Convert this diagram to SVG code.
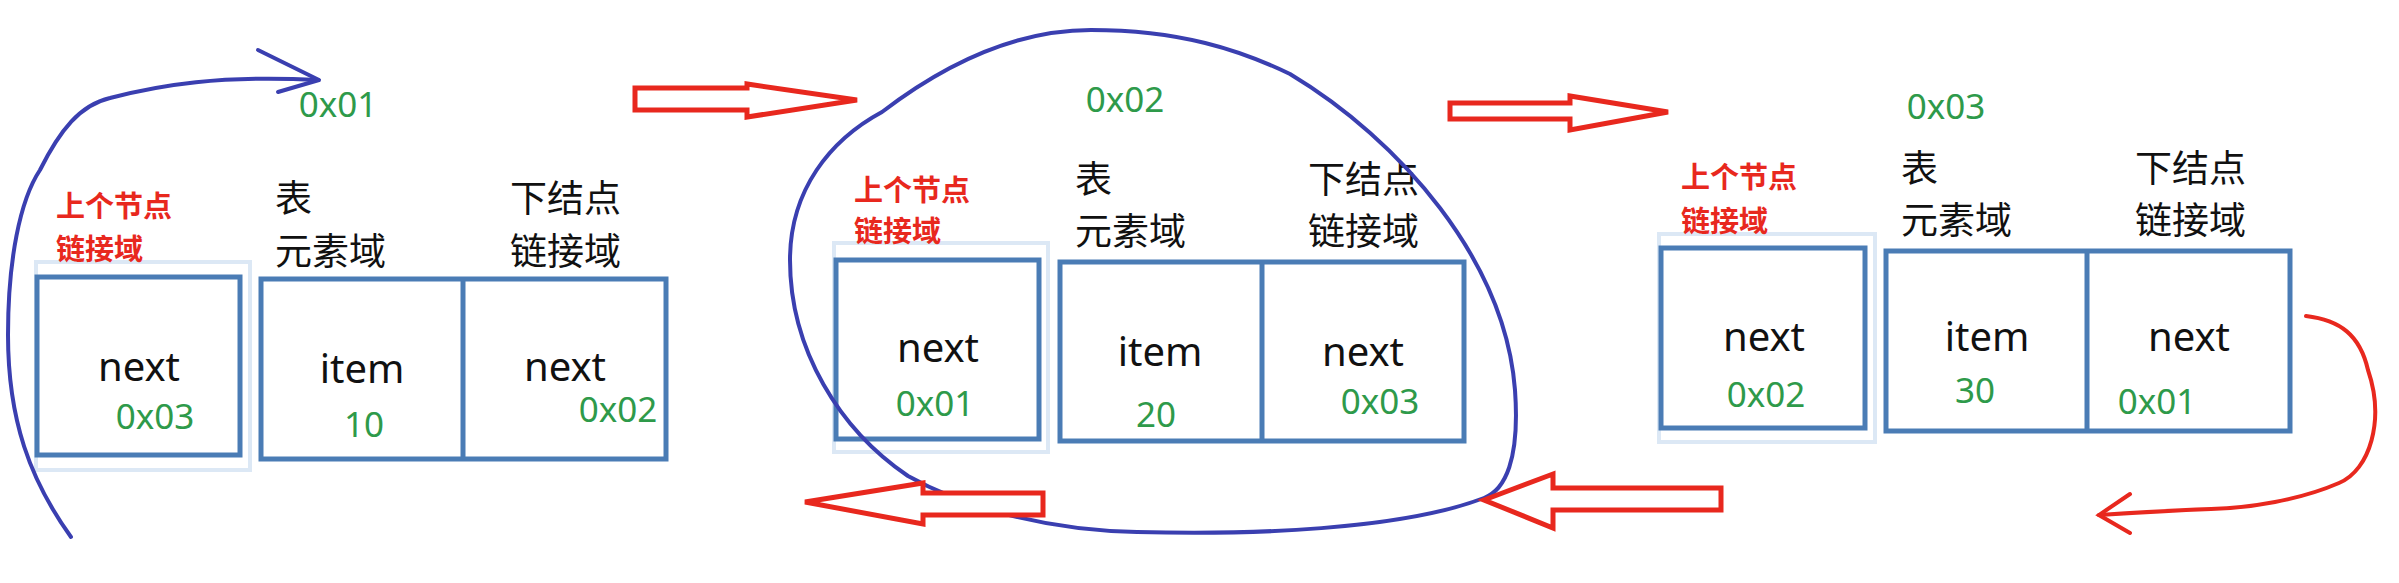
<svg xmlns="http://www.w3.org/2000/svg" width="2399" height="583" viewBox="0 0 2399 583">
<style>
.hl{fill:#fff;stroke:#dce8f5;stroke-width:4}
.box{fill:#fff;stroke:#4a7cb5;stroke-width:5}
.red{font-family:"Noto Sans CJK SC",sans-serif;font-weight:bold;font-size:29px;fill:#e8281e}
.cn{font-family:"Noto Sans CJK SC",sans-serif;font-size:37px;fill:#111}
.en{font-family:"Noto Sans","Noto Sans CJK SC",sans-serif;font-size:40px;fill:#111;text-anchor:middle}
.num{font-family:"Noto Sans",sans-serif;font-size:35px;fill:#2e9a4a;text-anchor:middle}
.blue{fill:none;stroke:#3a3fb0;stroke-width:4;stroke-linecap:round;stroke-linejoin:round}
.rarr{fill:#fff;stroke:#e8281e;stroke-width:5;stroke-linejoin:miter}
.rline{fill:none;stroke:#e8281e;stroke-width:4;stroke-linecap:round}
</style>
<g id="node1">
<rect class="hl" x="36" y="262" width="214" height="208"/>
<rect class="box" x="37" y="277" width="203" height="178"/>
<rect class="box" x="261" y="279" width="405" height="180"/>
<line class="box" x1="463" y1="279" x2="463" y2="459"/>
<text class="red" x="56" y="217">上个节点</text>
<text class="red" x="56" y="260">链接域</text>
<text class="cn" x="275" y="212">表</text>
<text class="cn" x="275" y="265">元素域</text>
<text class="cn" x="510" y="212">下结点</text>
<text class="cn" x="510" y="265">链接域</text>
<text class="num" x="338" y="117">0x01</text>
<text class="en" x="139" y="381">next</text>
<text class="num" x="155" y="429">0x03</text>
<text class="en" x="362" y="383">item</text>
<text class="num" x="364" y="437">10</text>
<text class="en" x="565" y="381">next</text>
<text class="num" x="618" y="422">0x02</text>
</g>
<g id="node2">
<rect class="hl" x="834" y="243" width="214" height="209"/>
<rect class="box" x="836" y="260" width="203" height="179"/>
<rect class="box" x="1060" y="262" width="404" height="179"/>
<line class="box" x1="1262" y1="262" x2="1262" y2="441"/>
<text class="red" x="854" y="201">上个节点</text>
<text class="red" x="854" y="242">链接域</text>
<text class="cn" x="1075" y="193">表</text>
<text class="cn" x="1075" y="245">元素域</text>
<text class="cn" x="1308" y="193">下结点</text>
<text class="cn" x="1308" y="245">链接域</text>
<text class="num" x="1125" y="112">0x02</text>
<text class="en" x="938" y="362">next</text>
<text class="num" x="935" y="416">0x01</text>
<text class="en" x="1160" y="366">item</text>
<text class="num" x="1156" y="427">20</text>
<text class="en" x="1363" y="366">next</text>
<text class="num" x="1380" y="414">0x03</text>
</g>
<g id="node3">
<rect class="hl" x="1659" y="234" width="216" height="208"/>
<rect class="box" x="1661" y="248" width="204" height="180"/>
<rect class="box" x="1886" y="251" width="404" height="180"/>
<line class="box" x1="2087" y1="251" x2="2087" y2="431"/>
<text class="red" x="1681" y="188">上个节点</text>
<text class="red" x="1681" y="232">链接域</text>
<text class="cn" x="1901" y="182">表</text>
<text class="cn" x="1901" y="234">元素域</text>
<text class="cn" x="2135" y="182">下结点</text>
<text class="cn" x="2135" y="234">链接域</text>
<text class="num" x="1946" y="119">0x03</text>
<text class="en" x="1764" y="351">next</text>
<text class="num" x="1766" y="407">0x02</text>
<text class="en" x="1987" y="351">item</text>
<text class="num" x="1975" y="403">30</text>
<text class="en" x="2189" y="351">next</text>
<text class="num" x="2157" y="414">0x01</text>
</g>
<g id="connectors">
<path class="blue" d="M71,537 C30,480 8,420 8,335 C8,260 20,200 40,170 C60,130 80,105 110,98 C160,85 220,75 318,80"/>
<path class="blue" d="M258,50 L319,80 L278,92"/>
<path class="blue" d="M1091,30 C1180,30 1240,50 1290,74 C1400,140 1505,260 1515,390 C1520,460 1505,490 1484,498 C1400,530 1250,535 1137,532 C1040,530 960,505 908,476 C840,430 790,350 790,260 C790,190 830,140 882,112 C950,60 1020,30 1091,30 Z"/>
<polygon class="rarr" points="635,88 747,88 747,84 857,100 747,117 747,110 635,110"/>
<polygon class="rarr" points="1450,103 1570,103 1570,96 1668,112 1570,130 1570,119 1450,119"/>
<polygon class="rarr" points="1043,493 923,493 923,483 805,502 923,524 923,515 1043,515"/>
<polygon class="rarr" points="1721,488 1553,488 1553,474 1484,500 1553,528 1553,510 1721,510"/>
<path class="rline" d="M2306,316 C2340,320 2360,335 2368,370 C2385,420 2370,470 2339,483 C2300,500 2250,508 2211,509 C2160,511 2130,513 2099,515"/>
<path class="rline" d="M2130,494 L2099,515 L2130,533"/>
</g>
</svg>
